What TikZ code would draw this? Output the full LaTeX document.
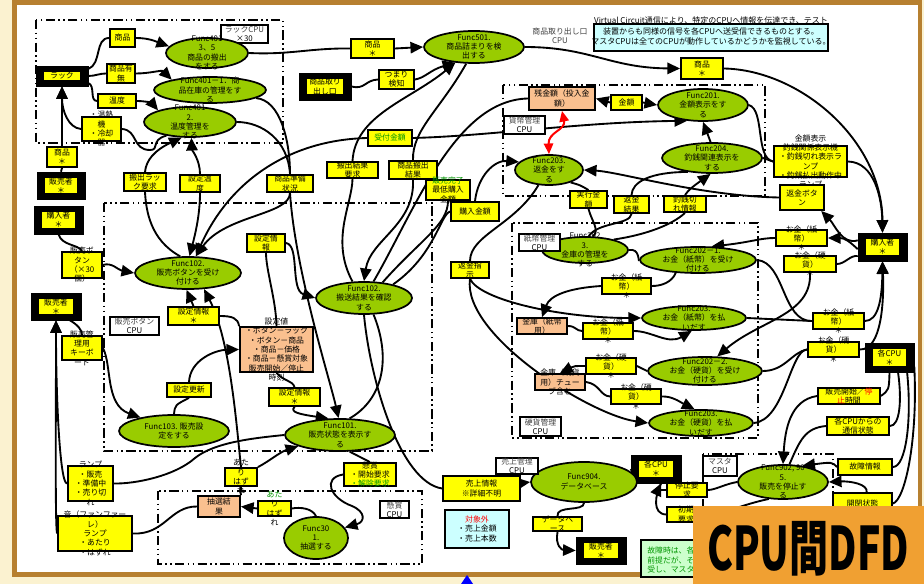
\documentclass[tikz,border=0pt]{standalone}
\usepackage{fontspec}
\usepackage{graphicx}
\setmainfont{Noto Sans CJK JP}
\usetikzlibrary{arrows.meta,shapes.geometric}
\pgfdeclarelayer{back}
\pgfdeclarelayer{wires}
\pgfdeclarelayer{front}
\pgfsetlayers{back,wires,main,front}

\definecolor{yel}{RGB}{255,255,0}
\definecolor{ellg}{RGB}{153,204,0}
\definecolor{peach}{RGB}{250,192,143}
\definecolor{notecyan}{RGB}{204,255,255}
\definecolor{notegreen}{RGB}{204,255,204}
\definecolor{txtgreen}{RGB}{0,150,0}
\definecolor{framebrown}{RGB}{183,128,48}
\definecolor{cream}{RGB}{251,242,208}
\definecolor{tagorange}{RGB}{240,160,50}

\tikzset{
  txt/.style={font=\fontsize{5.9}{7}\selectfont, align=center, inner sep=0pt, text=black},
  ybx/.style={draw=black, line width=1.4pt, fill=yel, inner sep=0pt},
  pbx/.style={ybx, fill=peach},
  cyanbx/.style={ybx, fill=notecyan},
  ell/.style={ellipse, draw=black, line width=1.3pt, fill=ellg, inner sep=0pt},
  ent/.style={fill=black, draw=black, inner sep=0pt},
  cpulab/.style={draw=black, line width=1.2pt, fill=white, inner sep=0pt},
  cpubox/.style={draw=black, line width=1.5pt, dash pattern=on 7pt off 2.5pt on 1.2pt off 2.5pt on 1.2pt off 2.5pt},
  conn/.style={draw=black, line width=1.4pt},
  arr/.style={conn, -{Triangle[length=9.5pt,width=8.5pt]}},
}

% box from corners: name, style, x1, y1, x2, y2, text
\newcommand\mkbox[7]{%
  \node[#2, minimum width={(#5-#3)*0.75pt}, minimum height={(#6-#4)*0.75pt}] (#1) at ({(#3+#5)/2},{(#4+#6)/2}) {};
  \node[txt] (#1t) at (#1.center) {#7};}
% process ellipse: name, cx, cy, width, height, text
\newcommand\mkell[6]{%
  \node[ell, minimum width={#4*0.75pt}, minimum height={#5*0.75pt}] (#1) at (#2,#3) {};
  \node[txt] (#1t) at (#1.center) {#6};}
% external entity: name, x1, y1, x2, y2, text
\newcommand\mkent[6]{%
  \node[ent, minimum width={(#4-#2)*0.75pt}, minimum height={(#5-#3)*0.75pt}] (#1) at ({(#2+#4)/2},{(#3+#5)/2}) {};
  \node[fill=yel, inner sep=0pt, minimum width={(#4-#2-16)*0.75pt}, minimum height={(#5-#3-12)*0.75pt}] (#1i) at (#1.center) {};
  \node[txt] (#1t) at (#1.center) {#6};}

\begin{document}
\begin{tikzpicture}[x=0.75pt,y=-0.75pt]
\useasboundingbox (0,0) rectangle (924,584);

\begin{pgfonlayer}{back}
  \fill[cream] (0,0) rectangle (924,584);
  \fill[framebrown] (12,0) rectangle (922,577);
  \fill[white] (17,5) rectangle (918,572);
  % CPU boundaries
  \draw[cpubox] (36,20) rectangle (283,143);
  \draw[cpubox] (104,203) rectangle (432,451);
  \draw[cpubox] (158,491) rectangle (422,564);
  \draw[cpubox] (503,85) rectangle (765,196);
  \draw[cpubox] (512,223) rectangle (758,438);
  \draw[cpubox] (703,454) rectangle (833,570);
\end{pgfonlayer}

% ---- rack CPU ----
\mkent{B1}{36}{66}{88}{86}{ラック}
\mkbox{Y1}{ybx}{110}{29}{135}{47}{商品}
\mkbox{Y2}{ybx}{107}{64}{135}{83}{商品有\\無}
\mkbox{Y3}{ybx}{98}{94}{136}{108}{温度}
\mkbox{Y4}{ybx}{82}{117}{121}{141}{・温熱\\機\\・冷却\\器}
\mkbox{Y5}{ybx}{47}{147}{77}{167}{商品\\＊}
\mkent{B2}{37}{172}{85}{199}{販売者\\＊}
\mkbox{Y6}{ybx}{124}{173}{166}{191}{搬出ラッ\\ク要求}
\mkbox{Y7}{ybx}{180}{175}{220}{192}{設定温\\度}
\mkbox{Lrack}{cpulab}{221}{25}{268}{43}{\color{darkgray}ラックCPU\\×30}
\mkell{E1}{207}{53}{82}{30}{Func401\\3、5\\商品の搬出\\をする}
\mkell{E2}{210}{90}{112}{26}{Func401－1．商\\品在庫の管理をす\\る}
\mkell{E3}{190}{122}{92}{30}{Func401\\2.\\温度管理を\\する}

% ---- top middle ----
\mkbox{Y8}{ybx}{351}{39}{394}{58}{商品\\＊}
\mkent{B5}{299}{73}{351}{100}{商品取り\\出し口}
\mkbox{Y9}{ybx}{379}{70}{414}{89}{つまり\\検知}
\mkell{E4}{474}{47}{100}{32}{Func501.\\商品詰まりを検\\出する}
\mkbox{Y10}{ybx}{368}{130}{412}{146}{\color{txtgreen}受付金額}
\mkbox{Y11}{ybx}{267}{175}{313}{192}{商品準備\\状況}
\mkbox{Y12}{ybx}{327}{162}{378}{178}{搬出結果\\要求}
\mkbox{Y13}{ybx}{389}{161}{437}{179}{商品搬出\\結果}
\mkbox{Y14}{ybx}{426}{180}{470}{200}{\color{txtgreen}販売完了\\最低購入\\金額}
\node[txt, text=darkgray] (Lexit) at (560,36) {商品取り出し口\\CPU};
\node[draw=black, line width=1.4pt, fill=notecyan, inner sep=0pt,
      minimum width={234*0.75pt}, minimum height={27*0.75pt}] (note) at (711,37.5) {};
\node[txt, font=\fontsize{6}{8}\selectfont] (notet) at (711,31)
  {Virtual Circuit通信により、特定のCPUへ情報を伝達でき、テスト\\装置からも同様の信号を各CPUへ送受信できるものとする。\\マスタCPUは全てのCPUが動作しているかどうかを監視している。};

% ---- currency management CPU ----
\mkbox{Y15}{pbx}{529}{87}{595}{110}{残金額（投入金\\額）}
\mkbox{Y16}{ybx}{611}{95}{642}{110}{金額}
\mkbox{Y17}{ybx}{681}{58}{723}{79}{商品\\＊}
\mkbox{Lcur}{cpulab}{504}{116}{545}{134}{\color{darkgray}貨幣管理\\CPU}
\mkell{E5}{703}{105}{90}{32}{Func201.\\金額表示をす\\る}
\mkell{E6}{712}{158}{100}{30}{Func204.\\釣銭関連表示を\\する}
\mkell{E7}{549}{170}{68}{30}{Func203.\\返金をす\\る}
\mkbox{Y18}{ybx}{774}{146}{847}{177}{金額表示\\釣銭関係表示機\\・釣銭切れ表示ラ\\ンプ\\・釣銭払出動作中\\ランプ}
\mkbox{Y19}{ybx}{780}{185}{824}{210}{返金ボタ\\ン}
\mkent{B6}{858}{233}{907}{261}{購入者\\＊}
\mkbox{Y20}{ybx}{570}{191}{607}{208}{実行金\\額}
\mkbox{Y21}{ybx}{614}{196}{649}{213}{返金\\結果}
\mkbox{Y22}{ybx}{664}{196}{706}{212}{釣銭切\\れ情報}
\mkbox{Y23}{ybx}{451}{202}{499}{221}{購入金額}

% ---- paper money / coin management CPU ----
\mkell{E8}{585}{250}{86}{26}{Func202\\3.\\金庫の管理を\\する}
\mkbox{Lpap}{cpulab}{519}{234}{560}{251}{\color{darkgray}紙幣管理\\CPU}
\mkell{E9}{698}{260}{116}{26}{Func202－1.\\お金（紙幣）を受け\\付ける}
\mkbox{Y24}{ybx}{451}{262}{489}{278}{返金指\\示}
\mkbox{Y25}{ybx}{602}{278}{651}{294}{お金（紙\\幣）\\＊}
\mkell{E10}{694}{318}{104}{24}{Func203.\\お金（紙幣）を払\\いだす}
\mkbox{Y26}{pbx}{517}{318}{567}{334}{金庫（紙幣\\用）}
\mkbox{Y27}{ybx}{583}{323}{633}{339}{お金（紙\\幣）\\＊}
\mkbox{Y28}{ybx}{586}{358}{636}{374}{お金（硬\\貨）\\＊}
\mkbox{Y29}{pbx}{535}{374}{585}{390}{金庫（硬貨\\用）チュー\\ブ含む}
\mkell{E11}{705}{371}{114}{28}{Func202－2.\\お金（硬貨）を受け\\付ける}
\mkbox{Y30}{ybx}{611}{389}{661}{404}{お金（硬\\貨）\\＊}
\mkell{E12}{701}{423}{104}{26}{Func203.\\お金（硬貨）を払\\いだす}
\mkbox{Lcoin}{cpulab}{520}{417}{561}{436}{\color{darkgray}硬貨管理\\CPU}

% ---- right column ----
\mkbox{Y31}{ybx}{776}{230}{827}{246}{お金（紙\\幣）\\＊}
\mkbox{Y32}{ybx}{784}{256}{836}{272}{お金（硬\\貨）\\＊}
\mkbox{Y33}{ybx}{813}{313}{864}{329}{お金（紙\\幣）\\＊}
\mkbox{Y34}{ybx}{808}{342}{859}{357}{お金（硬\\貨）\\＊}
\mkent{B7}{865}{343}{914}{372}{各CPU\\＊}
\mkbox{Y35}{ybx}{818}{388}{880}{404}{販売開始／\textcolor{red}{停}\\\textcolor{red}{止}時間}
\mkbox{Y36}{ybx}{827}{417}{889}{435}{各CPUからの\\通信状態}
\mkbox{Y37}{ybx}{838}{459}{892}{475}{故障情報}
\mkbox{Y38}{ybx}{833}{493}{892}{514}{開閉状態}
\mkbox{Lmas}{cpulab}{703}{456}{737}{476}{\color{darkgray}マスタ\\CPU}
\mkell{E19}{783}{482}{90}{34}{Func902, 90\\5.\\販売を停止す\\る}
\mkbox{Y42}{ybx}{667}{483}{707}{497}{停止要\\求}
\mkbox{Y43}{ybx}{667}{507}{705}{522}{初期\\要求}
\mkent{B8}{631}{455}{681}{483}{各CPU\\＊}

% ---- sales management ----
\mkell{E18}{584}{482}{106}{40}{Func904.\\データベース}
\mkbox{Lsales}{cpulab}{496}{458}{538}{474}{\color{darkgray}売上管理\\CPU}
\mkbox{Y39}{ybx}{443}{476}{520}{501}{売上情報\\※詳細不明}
\mkbox{Nout}{cyanbx}{445}{510}{509}{548}{\color{red}対象外\\・売上金額\\・売上本数}
\mkbox{Y41}{ybx}{533}{517}{582}{531}{データベ\\ース}
\mkent{B9}{576}{537}{626}{564}{販売者\\＊}
\node[draw=black, line width=1.4pt, fill=notegreen, inner sep=0pt,
      minimum width={98*0.75pt}, minimum height={37*0.75pt}] (Ngreen) at (690,558.5) {};
\node[txt, align=left, anchor=west, text=txtgreen] (Ngreent) at (647,560) {故障時は、各\\前提だが、そ\\受し、マスタ};

% ---- sales button CPU ----
\mkent{B3}{34}{206}{83}{234}{購入者\\＊}
\mkbox{Y55}{ybx}{62}{252}{102}{278}{販売ボ\\タン\\（×30\\個）}
\mkent{B4}{31}{293}{81}{320}{販売者\\＊}
\mkbox{Y56}{ybx}{62}{336}{102}{360}{販売管\\理用\\キーボ\\ード}
\mkbox{Lbtn}{cpulab}{110}{317}{159}{335}{\color{darkgray}販売ボタン\\CPU}
\mkell{E13}{188}{273}{106}{32}{Func102.\\販売ボタンを受け\\付ける}
\mkbox{Y53}{ybx}{168}{307}{219}{325}{設定情報\\＊}
\mkbox{Y52}{ybx}{247}{234}{285}{252}{設定情\\報}
\mkell{E14}{364}{298}{96}{32}{Func102.\\搬送結果を確認\\する}
\mkbox{SV}{pbx}{240}{327}{313}{372}{設定値\\・ボタン－ラック\\・ボタン－商品\\・商品－価格\\・商品－懸賞対象\\販売開始／停止\\時刻}
\mkbox{Y54}{ybx}{167}{383}{211}{397}{設定更新}
\mkell{E15}{174}{431}{110}{32}{Func103. 販売設\\定をする}
\mkbox{Y50}{ybx}{269}{388}{320}{406}{設定情報\\＊}
\mkell{E16}{340}{435}{110}{32}{Func101.\\販売状態を表示す\\る}
\mkbox{Y44}{ybx}{68}{466}{113}{501}{ランプ\\・販売\\・準備中\\・売り切\\れ}
\mkbox{Y45}{ybx}{58}{516}{132}{551}{音（ファンファー\\レ）\\ランプ\\・あたり\\・はずれ}

% ---- prize CPU ----
\mkbox{Lprize}{cpulab}{380}{501}{409}{518}{\color{darkgray}懸賞\\CPU}
\mkbox{Y46}{pbx}{198}{496}{240}{517}{抽選結\\果}
\mkbox{Y47}{ybx}{225}{468}{257}{486}{あた\\り\\はず\\れ}
\mkbox{Y48}{ybx}{258}{501}{291}{516}{\color{txtgreen}あた\\り\\はず\\れ}
\mkbox{Y49}{ybx}{344}{463}{396}{486}{懸賞\\・開始要求\\\textcolor{txtgreen}{・解除要求}}
\mkell{E17}{316}{538}{64}{42}{Func30\\1.\\抽選する}

\begin{pgfonlayer}{wires}
  % rack
  \draw[conn] (B1.15) to[out=20,in=180] (Y1.west);
  \draw[arr] (Y1.east) to[out=0,in=160] (E1.170);
  \draw[conn] (B1.east) to[out=0,in=180] (Y2.west);
  \draw[arr] (Y2.east) to[out=0,in=135] (E2.165);
  \draw[conn] (B1.-15) to[out=-20,in=180] (Y3.west);
  \draw[arr] (Y3.east) to[out=0,in=130] (E3.160);
  \draw[conn] (Y4.east) .. controls (138,130) and (132,150) .. (150,150) .. controls (160,150) and (150,140) .. (E3.-150);
  \draw[arr] (Y5.north) -- (B1.south);
  \draw[arr] (Y4.west) .. controls (68,128) and (62,110) .. (B1.south);
  \draw[conn] (B2.north) -- (Y5.south);
  \draw[arr] (Y6.north) .. controls (146,160) and (155,150) .. (E3.-118);
  \draw[arr] (Y7.north) .. controls (200,160) and (192,150) .. (E3.-85);
  \draw[conn] (E13.115) .. controls (150,240) and (146,210) .. (Y6.south);
  \draw[arr] (Y7.south) .. controls (200,215) and (195,235) .. (E13.85);
  % carry-out and jam detection
  \draw[conn] (E1.east) .. controls (290,55) and (310,48) .. (Y8.west);
  \draw[arr] (Y8.east) -- (E4.west);
  \draw[conn] (B5.east) .. controls (365,90) and (365,80) .. (Y9.west);
  \draw[arr] (Y9.east) .. controls (425,78) and (430,70) .. (E4.-140);
  \draw[arr] (Y12.north) .. controls (355,115) and (410,100) .. (E4.-140);
  \draw[conn] (E4.-115) .. controls (440,110) and (412,130) .. (Y13.north);
  \draw[arr] (Y13.south) .. controls (415,225) and (370,240) .. (E14.north);
  \draw[conn] (E14.125) .. controls (330,240) and (352,205) .. (Y12.south);
  \draw[arr] (E4.east) .. controls (590,47) and (610,68) .. (Y17.west);
  \draw[arr] (Y17.east) .. controls (800,70) and (882,140) .. (B6.north);
  \draw[arr] (Y18.east) .. controls (875,162) and (882,200) .. (B6.north);
  \draw[conn] (E5.east) .. controls (765,110) and (755,158) .. (Y18.west);
  \draw[conn] (E6.east) -- (Y18.west);
  \draw[conn] (E2.-10) .. controls (280,100) and (290,140) .. (Y11.north);
  \draw[conn] (E3.east) .. controls (262,122) and (288,140) .. (Y11.north);
  \draw[arr] (Y11.south) .. controls (290,215) and (225,215) .. (E13.65);
  \draw[arr] (Y11.south) .. controls (295,270) and (330,380) .. (E16.95);
  \draw[arr] (Y10.west) .. controls (290,140) and (230,180) .. (E13.65);
  \draw[arr] (Y10.east) .. controls (490,136) and (580,122) .. (E5.-135);
  % amounts
  \draw[arr] (Y16.west) -- (Y15.east);
  \draw[arr] (Y16.east) -- (E5.west);
  \draw[red, line width=1.5pt, {Triangle[length=8pt,width=7pt]}-{Triangle[length=8pt,width=7pt]}]
    (Y15.south) .. controls (566,130) and (548,132) .. (E7.north);
  \draw[conn] (E14.60) .. controls (415,210) and (455,100) .. (Y15.west);
  \draw[conn] (E14.40) .. controls (420,240) and (448,225) .. (Y14.south);
  \draw[conn] (E14.25) .. controls (435,255) and (440,215) .. (Y23.west);
  \draw[arr] (Y23.north) .. controls (478,175) and (495,160) .. (E7.165);
  \draw[conn] (E7.-125) .. controls (515,225) and (470,235) .. (Y24.north);
  \draw[arr] (Y24.south) .. controls (480,300) and (560,318) .. (E10.west);
  \draw[arr] (Y24.south) .. controls (462,335) and (590,415) .. (E12.west);
  \draw[conn] (E7.-30) .. controls (580,185) .. (Y20.north);
  \draw[conn] (Y20.south) .. controls (592,222) and (600,230) .. (E8.60);
  \draw[conn] (E8.75) .. controls (598,222) and (630,225) .. (Y21.south);
  \draw[conn] (Y21.north) .. controls (632,182) and (650,172) .. (E6.-150);
  \draw[conn] (E8.20) .. controls (645,235) and (672,225) .. (Y22.south);
  \draw[arr] (Y22.north) .. controls (688,190) and (695,185) .. (E6.-95);
  \draw[arr] (E6.95) -- (E5.-90);
  % purchaser
  \draw[arr] (B6.165) .. controls (842,245) and (835,225) .. (Y19.-35);
  \draw[arr] (Y19.west) .. controls (700,196) and (620,172) .. (E7.east);
  \draw[arr] (B6.185) .. controls (850,242) and (845,238) .. (Y31.east);
  \draw[arr] (Y31.west) .. controls (760,238) and (752,242) .. (E9.45);
  \draw[conn] (B6.200) .. controls (850,255) and (845,264) .. (Y32.east);
  \draw[arr] (Y32.south) .. controls (812,315) and (760,320) .. (E11.50);
  \draw[conn] (E9.east) .. controls (785,262) and (782,322) .. (Y33.west);
  \draw[conn] (E10.east) -- (Y33.west);
  \draw[arr] (Y33.east) .. controls (878,321) and (882,300) .. (B6.south);
  \draw[arr] (Y34.east) .. controls (882,350) and (884,300) .. (B6.south);
  \draw[conn] (E12.east) .. controls (785,420) and (790,350) .. (Y34.west);
  \draw[conn] (E11.east) .. controls (785,371) and (792,352) .. (Y34.west);
  % safes
  \draw[conn] (E9.-150) .. controls (672,282) and (662,286) .. (Y25.east);
  \draw[arr] (Y25.west) .. controls (570,288) and (550,295) .. (Y26.north);
  \draw[conn] (Y26.east) .. controls (576,326) and (576,331) .. (Y27.west);
  \draw[arr] (Y27.east) .. controls (652,331) and (668,345) .. (E10.-100);
  \draw[conn] (E11.west) -- (Y28.east);
  \draw[arr] (Y28.west) .. controls (574,366) .. (Y29.north);
  \draw[conn] (Y29.east) .. controls (600,384) and (600,396) .. (Y30.west);
  \draw[arr] (Y30.east) .. controls (672,396) and (680,402) .. (E12.115);
  \draw[conn] (E8.east) .. controls (640,248) and (638,262) .. (E9.west);
  % master CPU
  \draw[conn] (B7.south) .. controls (889,390) .. (Y35.east);
  \draw[arr] (Y35.west) .. controls (790,400) and (785,430) .. (E19.north);
  \draw[conn] (B7.-60) .. controls (902,400) and (900,426) .. (Y36.east);
  \draw[conn] (Y36.west) .. controls (805,428) and (800,440) .. (E19.70);
  \draw[conn] (B7.-40) .. controls (912,420) and (906,467) .. (Y37.east);
  \draw[arr] (Y37.west) .. controls (832,462) .. (E19.40);
  \draw[conn] (B7.-20) .. controls (918,440) and (905,500) .. (Y38.east);
  \draw[arr] (Y38.70) .. controls (868,484) and (850,481) .. (E19.east);
  \draw[conn] (E19.west) .. controls (725,484) and (715,490) .. (Y42.east);
  \draw[arr] (Y42.west) .. controls (658,490) .. (B8.-70);
  \draw[conn] (Y43.west) .. controls (652,514) and (655,495) .. (B8.-70);
  \draw[conn] (Y43.east) .. controls (725,514) and (740,505) .. (E19.-130);
  \draw[conn] (E18.10) -- (B8.west);
  % sales data
  \draw[conn] (E14.-90) .. controls (370,380) and (400,482) .. (Y39.west);
  \draw[arr] (Y39.center) -- (E18.west);
  \draw[conn] (E18.south) .. controls (584,512) and (556,505) .. (Y41.north);
  \draw[arr] (Y41.south) .. controls (555,546) and (562,550) .. (B9.west);
  % sales button CPU
  \draw[conn] (SV.south) .. controls (285,382) and (292,380) .. (Y50.north);
  \draw[arr] (Y50.south) .. controls (290,412) and (298,414) .. (E16.125);
  \draw[conn] (E14.-60) .. controls (392,360) and (382,400) .. (E16.60);
  \draw[conn] (E16.-60) -- (Y49.north);
  \draw[arr] (Y49.west) .. controls (322,478) and (330,498) .. (352,506) .. controls (366,512) and (365,522) .. (E17.20);
  \draw[conn] (E17.north) .. controls (312,508) and (300,507) .. (Y48.east);
  \draw[arr] (Y48.west) -- (Y46.east);
  \draw[conn] (Y46.west) .. controls (170,506) and (165,535) .. (Y45.east);
  \draw[conn] (Y46.north east) .. controls (240,490) and (242,490) .. (Y47.south);
  \draw[arr] (Y47.north east) .. controls (268,462) and (280,452) .. (E16.-165);
  \draw[arr] (Y47.north) .. controls (236,420) and (230,340) .. (E13.-45);
  \draw[conn] (E16.west) .. controls (255,438) and (215,442) .. (195,458) .. controls (175,476) and (135,484) .. (Y44.east);
  \draw[arr] (Y44.west) .. controls (60,484) and (56,400) .. (B4.south);
  \draw[arr] (Y45.west) .. controls (55,525) and (56,420) .. (B4.south);
  \draw[conn] (B3.south) .. controls (62,246) and (78,244) .. (Y55.north);
  \draw[arr] (Y55.east) .. controls (112,262) and (118,270) .. (E13.west);
  \draw[conn] (B4.-45) .. controls (78,325) and (82,330) .. (Y56.north);
  \draw[arr] (Y56.east) .. controls (112,365) and (105,405) .. (E15.158);
  \draw[conn] (E15.north) .. controls (175,405) .. (Y54.south);
  \draw[arr] (Y54.north) .. controls (190,360) and (215,350) .. (SV.west);
  \draw[conn] (SV.north west) .. controls (238,318) and (232,316) .. (Y53.east);
  \draw[arr] (Y53.north) -- (E13.-95);
  \draw[conn] (SV.north) .. controls (276,300) and (266,270) .. (Y52.south);
  \draw[arr] (Y52.east) .. controls (300,245) and (290,290) .. (E14.west);
\end{pgfonlayer}

\begin{pgfonlayer}{front}
  \fill[tagorange] (693,506) rectangle (924,584);
  \node[font=\fontsize{45}{45}\selectfont\bfseries, inner sep=0pt] (tag) at (808,549) {\scalebox{0.65}[1]{CPU間DFD}};
  \fill[blue] (461,584) -- (467,575) -- (473,584) -- cycle;
\end{pgfonlayer}
\end{tikzpicture}
\end{document}
